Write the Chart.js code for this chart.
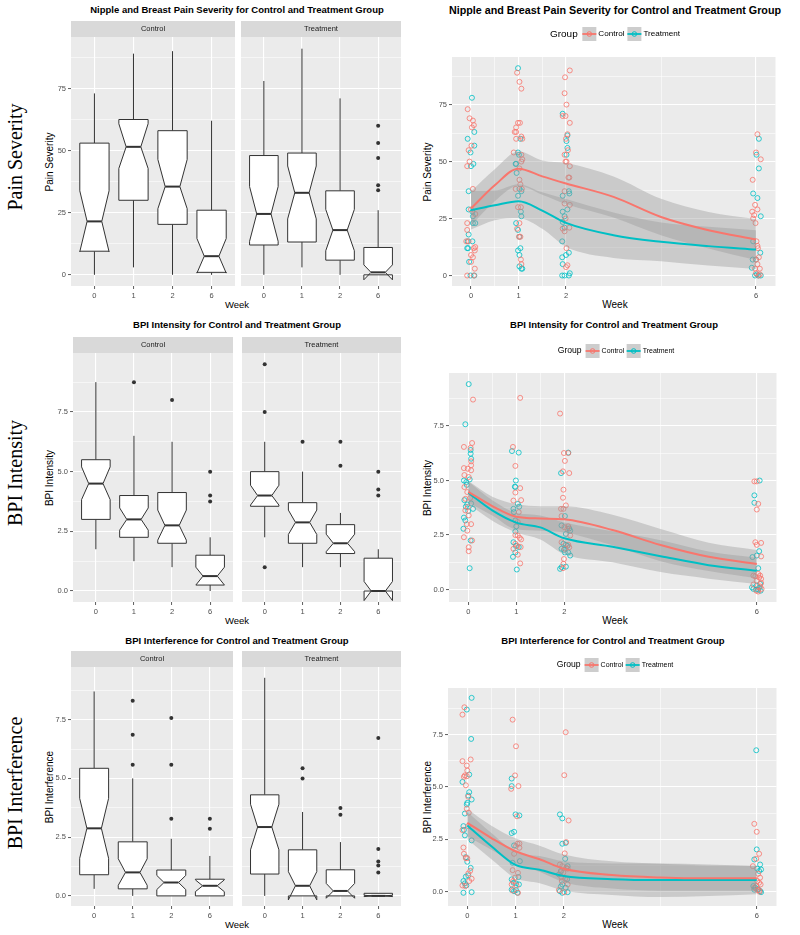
<!DOCTYPE html>
<html>
<head>
<meta charset="utf-8">
<script src="https://cdn.jsdelivr.net/npm/chart.js@4.4.1/dist/chart.umd.min.js"></script>
<style>
body { margin: 0; background: #fff; width: 800px; height: 935px; position: relative; overflow: hidden; }
canvas { position: absolute; }
.t { position: absolute; white-space: nowrap; line-height: 1; font-family: 'Liberation Sans', Arial, sans-serif; color: #000; }
</style>
</head>
<body>
<script>
const FONT = "'Liberation Sans', Arial, sans-serif";
const RED = '#F8766D', CYAN = '#00BFC4';

// ---- shared axes ----
const weeks = ['0', '1', '2', '6'];
const weekNums = [0, 1, 2, 6];
const fitWeeks = [0, 0.5, 1, 1.5, 2, 3, 4, 5, 6];
const painTicks = [0, 25, 50, 75];
const bpiTicks = [0, 2.5, 5, 7.5];

// box stats per week: [whisker low, Q1, median, Q3, whisker high, notch low, notch high]
const painControlBoxes = [[0, 9.5, 21.5, 53, 73, 9.3, 33.8], [3, 30, 51.5, 62.5, 89, 42.8, 60.8], [0, 20.3, 35.5, 58, 90, 26.6, 46.4], [0, 1, 7.5, 26, 62, 0.7, 14.6]];
const painTreatmentBoxes = [[0, 12, 24.5, 48, 78, 13.5, 35.5], [3, 13.2, 33, 49, 91, 22.5, 43.8], [0, 5.9, 18, 33.8, 71, 9.7, 26.3], [0, 0, 1, 11, 26, -2, 4]];
const painControlOutliers = [];
const painTreatmentOutliers = [['6', 60], ['6', 53], ['6', 47], ['6', 36], ['6', 34]];

const intensityControlBoxes = [[1.75, 3, 4.5, 5.5, 8.75, 3.83, 5.2], [1.25, 2.25, 3, 4, 6.5, 2.55, 3.48], [1, 2, 2.75, 4.125, 6.25, 2.13, 3.39], [0, 0.25, 0.625, 1.5, 2.25, 0.25, 1]];
const intensityTreatmentBoxes = [[2.25, 3.55, 4, 5, 6.25, 3.6, 4.43], [1, 2, 2.875, 3.7, 5, 2.37, 3.39], [1, 1.57, 2, 2.78, 3.27, 1.65, 2.38], [0, 0, 0, 1.375, 1.75, -0.4, 0.4]];
const intensityControlOutliers = [['1', 8.75], ['2', 8], ['6', 5], ['6', 4], ['6', 3.75]];
const intensityTreatmentOutliers = [['0', 9.5], ['0', 7.5], ['0', 1], ['1', 6.25], ['2', 6.25], ['2', 5.25], ['6', 5], ['6', 4.25], ['6', 4]];

const interferenceControlBoxes = [[0.3, 0.9, 2.875, 5.43, 8.7, 1.6, 4.15], [0, 0.3, 1, 2.3, 5, 0.45, 1.58], [0, 0, 0.57, 1.1, 2.43, 0.27, 0.87], [0, 0, 0.43, 0.71, 1.7, 0.18, 0.68]];
const interferenceTreatmentBoxes = [[0, 0.93, 2.93, 4.3, 9.28, 1.96, 3.9], [0, 0, 0.43, 1.96, 3.57, -0.17, 1.03], [0, 0, 0.21, 1.11, 2.29, -0.1, 0.53], [0, 0, 0, 0.11, 0.11, -0.03, 0.03]];
const interferenceControlOutliers = [['1', 8.3], ['1', 6.86], ['1', 5.58], ['2', 7.57], ['2', 5.58], ['2', 3.28], ['6', 3.28], ['6', 2.86]];
const interferenceTreatmentOutliers = [['1', 5.43], ['1', 5], ['2', 3.74], ['2', 3.45], ['6', 6.72], ['6', 2], ['6', 1.46], ['6', 1.29], ['6', 1]];

// jittered observations [week + jitter, value]
const painControlPoints = [[-0.07,73],[-0.03,69],[0.04,68],[0.06,66],[0.02,65],[0.01,57],[-0.05,55],[-0.03,50],[-0.08,48],[0.04,38],[0,29],[0.09,27],[-0.08,23],[-0.08,20],[-0.1,15],[-0.05,15],[0.06,12],[0.08,11],[0.09,12.5],[0,9],[0.04,8],[0,6],[0.08,3],[-0.08,0],[0.06,0],
  [0.97,89],[1.02,85],[1.06,82],[0.99,67],[1.03,67],[0.95,65],[0.92,63],[0.95,63],[1.06,61],[1.08,60],[0.95,60],[0.9,54],[1.06,53],[1.08,51],[1.06,50],[1.02,47],[1.02,42],[1.04,40],[1.07,38],[0.94,38],[0.99,30],[1.05,30],[1.02,23],[0.97,20.5],[1.01,17],[1.04,17],[1.05,7],[1.06,5],
  [2.08,90],[1.98,87],[1.97,80],[2.01,75],[1.93,70],[1.99,70],[2.08,67],[2.03,62],[2,60],[2.04,55],[1.97,53],[2.01,50],[1.99,50],[2.08,48],[2.07,43],[2.05,43],[1.97,37],[1.97,31.6],[2.08,31],[1.99,25],[2.07,21],[1.93,20.6],[1.97,19.4],[2.01,12],[2.03,4.5],[2,3.7],
  [6.03,62],[6,54],[6.1,51],[5.93,42],[5.98,31],[5.92,28],[6.03,29],[5.94,25],[5.99,23],[5.96,26.5],[6.01,15],[6.03,13],[6.04,12],[6.06,8],[6,7],[6.03,5],[6.08,3],[5.98,3],[6,1],[6.05,0],[6.08,0.5]];
const painTreatmentPoints = [[0.02,78],[-0.07,60],[0.07,63],[0.07,57],[-0.01,54],[0,48],[0.05,49],[-0.05,37],[-0.05,29],[0.03,28],[0.04,26],[0.09,23],[0.04,23],[-0.05,18],[-0.07,15],[0.03,15],[-0.08,12],[-0.06,12],[-0.04,6],[-0.01,0],[0.07,0],
  [0.99,91],[0.99,54],[1.01,53],[0.95,49],[0.94,49],[0.96,45],[1.04,60],[1.02,38],[1.06,37],[0.99,35],[1.05,28],[1.06,26],[0.95,23],[0.99,20],[1.02,17],[1.04,12],[0.99,11],[1.02,9],[1.02,4],[1.06,3],[1.08,3],
  [1.93,71],[2.03,61.5],[2.01,59],[2.03,56],[2.01,53],[2.07,36],[1.93,35],[2.06,37],[2.03,29],[1.93,28],[1.97,26],[1.93,23.5],[1.97,21],[1.92,15],[2,9],[2.06,10],[1.93,5],[1.92,8],[1.92,0],[1.97,0],[2.06,0],[2.08,1],
  [6.06,60],[6.01,53],[6.06,47],[5.94,36],[6.03,34],[6.1,26],[5.94,15],[6.09,10],[5.93,7],[6,7],[5.91,3.4],[5.98,0],[6.05,0],[6.1,0],[6.02,0.5]];

const intensityControlPoints = [[0.1,8.71],[0.08,6.72],[-0.09,6.54],[0.05,6.5],[0.06,5.88],[0.06,5.7],[-0.09,5.57],[-0.01,5.54],[0.06,5.47],[-0.08,5.25],[0.01,5.16],[-0.08,4.7],[-0.02,4.47],[0.04,4.2],[-0.06,4.16],[-0.01,3.78],[-0.06,3.63],[0.01,3.4],[-0.03,3],[0.06,3],[-0.02,2.7],[-0.09,2.4],[0.08,2.25],[0.01,1.94],[0.01,1.76],
  [1.08,8.79],[0.93,6.54],[0.98,5.67],[1.08,4.65],[0.98,4.45],[0.94,4.08],[1.1,4.1],[1.05,3.55],[1.03,3.1],[0.98,2.5],[1.03,2.48],[1.07,2.37],[1.1,2.3],[0.98,2.1],[1.02,2],[1.09,1.95],[0.94,1.87],[1.03,1.6],[1.08,1.2],
  [1.91,8.07],[1.99,6.26],[2.08,6.26],[2.01,5.9],[2.1,5.34],[1.97,5.42],[1.98,4.58],[1.97,4.21],[2.03,3.86],[1.98,3.7],[1.93,3.7],[1.94,3.37],[2.08,2.9],[2,2.86],[2.06,2.79],[2.12,2.48],[1.94,2.17],[2.08,2.05],[2.1,1.94],[2.01,1.87],[1.99,1.4],[1.98,1.18],[1.97,0.98],
  [5.95,4.96],[6,4.96],[6.03,3.93],[6,3.67],[5.97,2.17],[6,2.05],[6.09,2.14],[6.09,1.52],[5.93,0.64],[5.97,0.61],[6.03,0.72],[6.07,0.64],[6.05,0.55],[6.09,0.49],[6,0.41],[6.09,0.3],[5.93,0.23],[6.07,0.14],[5.99,-0.05],[6.03,-0.09],[6.1,0.03]];
const intensityTreatmentPoints = [[0.01,9.42],[-0.06,7.58],[0.05,6.4],[0.05,6.23],[0.06,6],[0.03,5.05],[-0.09,5],[-0.04,4.93],[-0.03,4.8],[-0.08,4.1],[0.06,3.95],[-0.02,3.9],[-0.05,3.8],[0.1,3.7],[0,3.6],[-0.09,3.3],[-0.06,3.17],[-0.1,2.79],[0.05,2.25],[0.03,0.98],
  [0.91,6.35],[1.05,6.28],[0.99,5],[0.97,4.72],[0.98,4.7],[1.03,3.93],[1.06,3.8],[0.94,3.7],[0.95,3.55],[0.98,3.17],[1,2.9],[0.98,2.66],[0.94,2.17],[0.99,2],[1.05,1.95],[0.98,1.7],[0.93,1.5],[1.01,0.92],
  [1.93,5.34],[2.08,6.28],[2.01,3.37],[1.94,2.94],[2.1,2.8],[2.12,2.7],[2.03,2.55],[1.98,2.1],[2.06,2],[2.03,2.05],[1.94,1.87],[1.99,1.82],[2.08,1.7],[2.01,1.7],[2.12,1.56],[1.94,1.03],[2.03,1.05],[1.91,0.95],
  [6.06,5],[5.95,4.32],[5.95,3.98],[6.05,1.76],[6,1.56],[5.91,1.49],[6.03,0.98],[6.07,0.26],[6,0.18],[5.9,0.1],[6.05,0.08],[5.93,0.03],[5.99,0],[6.03,0],[6.08,-0.05]];

const interferenceControlPoints = [[-0.06,8.8],[-0.1,8.45],[0.07,6.31],[-0.1,6.23],[-0.01,6.02],[0,5.78],[-0.05,5.55],[-0.01,5.51],[-0.07,5.48],[-0.03,5.08],[0.02,4.53],[-0.01,3.96],[0.03,3.77],[0.02,3.13],[-0.1,2.94],[-0.08,2.11],[-0.07,1.81],[-0.03,1.6],[0,1.6],[0.06,1],[0.02,0.87],[0.09,0.62],[0.04,0.51],[-0.1,0.3],[-0.04,0.27],
  [0.94,8.21],[1.01,6.94],[0.99,5.55],[1.06,5.04],[0.91,4.91],[1.03,3.6],[1.04,2.29],[1.08,2.3],[1.01,2.18],[1.08,2.1],[0.97,1.81],[0.94,1.03],[1.05,0.9],[0.99,0.67],[0.95,0.51],[0.92,0.35],[1.02,0.3],[0.94,0.06],[1.05,-0.05],
  [2.04,7.61],[2.01,5.56],[2.1,3.4],[2.05,2.37],[2.02,1.83],[1.92,1.3],[1.97,1.22],[2.05,1.14],[2.08,1.1],[1.94,0.94],[1.99,0.91],[1.95,0.7],[2.03,0.62],[1.96,0.51],[2.08,0.35],[1.9,0.08],[2.01,-0.02],
  [5.95,3.24],[6,2.86],[6.05,1.81],[5.99,1.57],[5.92,1.22],[6.03,0.86],[6.07,0.67],[6.01,0.51],[6.05,0.43],[6.08,0.35],[5.99,0.27],[5.95,0.19],[6.01,0.08],[6.05,0.08],[6.06,0]];
const interferenceTreatmentPoints = [[0.09,9.25],[-0.01,8.69],[0.08,7.29],[0.04,5.59],[-0.1,5.24],[0.04,4.75],[0.02,4.59],[0.09,4.4],[0,4.24],[-0.01,4.16],[-0.05,3.73],[-0.08,3.13],[-0.07,2.95],[-0.05,2.69],[0.09,2.45],[-0.03,1.65],[0,1.43],[0.07,1.14],[0.02,0.78],[-0.03,0.72],[-0.08,0.51],[-0.05,0.4],[-0.02,0.3],[-0.08,-0.05],[0.09,-0.02],
  [0.92,5.4],[0.92,5.04],[1,3.69],[1.08,3.64],[0.97,2.86],[0.92,2.8],[0.97,2.21],[1.09,1.46],[0.94,1.38],[1.06,0.7],[0.92,0.59],[0.96,0.43],[1.01,0.4],[1.07,0.35],[0.92,0.1],[1.01,0.08],[0.97,0.03],[1.04,-0.05],
  [1.92,3.69],[1.97,3.5],[1.97,2.29],[2.04,2.33],[2.03,1.57],[2.08,1.22],[1.94,0.99],[1.9,0.83],[2.07,0.6],[1.97,0.35],[1.94,0.25],[2.04,0.19],[1.92,0.03],[1.97,-0.05],[2.08,-0.02],
  [5.99,6.75],[6,2.02],[5.95,1.54],[6.07,1.3],[6.01,1.1],[6.09,1.06],[6.05,0.99],[5.93,0.27],[5.97,0.19],[5.95,0.1],[6.03,0.11],[6.07,0.03],[6.09,-0.02]];

// loess fits and confidence limits at fitWeeks
const painControlFit = [29.4, 39.6, 46.9, 43.5, 40.4, 34.5, 25.7, 19.9, 15.8];
const painControlLow = [22, 32.6, 39.4, 35.5, 31.4, 25.5, 17.7, 11.9, 6.8];
const painControlHigh = [36.9, 46.6, 54.4, 50.5, 49.4, 43.5, 33.7, 27.9, 24.8];
const painTreatmentFit = [28.7, 30.8, 32.6, 28.5, 23.1, 17.7, 14.8, 12.9, 11.4];
const painTreatmentLow = [20.2, 24.3, 25.1, 20.5, 12.6, 7.7, 6.3, 4.4, 2.9];
const painTreatmentHigh = [37.2, 37.3, 40.1, 36.5, 33.6, 27.7, 23.3, 21.4, 19.9];

const intensityControlFit = [4.48, 3.83, 3.34, 3.26, 3.22, 2.73, 2.04, 1.5, 1.17];
const intensityControlLow = [3.98, 3.4, 2.76, 2.7, 2.62, 2.03, 1.3, 0.85, 0.52];
const intensityControlHigh = [4.98, 4.26, 3.92, 3.82, 3.82, 3.43, 2.78, 2.15, 1.82];
const intensityTreatmentFit = [4.44, 3.63, 3.07, 2.85, 2.35, 1.96, 1.53, 1.12, 0.86];
const intensityTreatmentLow = [3.92, 3.16, 2.62, 2.3, 1.62, 1.25, 0.8, 0.5, 0.26];
const intensityTreatmentHigh = [4.96, 4.1, 3.52, 3.4, 3.08, 2.67, 2.26, 1.74, 1.46];

const interferenceControlFit = [3.29, 2.56, 1.93, 1.55, 1.1, 0.8, 0.68, 0.64, 0.64];
const interferenceControlLow = [2.65, 2.0, 1.35, 0.95, 0.45, 0.15, 0.05, 0.05, 0.05];
const interferenceControlHigh = [3.95, 3.15, 2.55, 2.2, 1.78, 1.45, 1.33, 1.25, 1.25];
const interferenceTreatmentFit = [3.16, 2.17, 1.28, 1.05, 0.75, 0.6, 0.56, 0.56, 0.56];
const interferenceTreatmentLow = [2.5, 1.55, 0.65, 0.4, 0.05, -0.15, -0.25, -0.2, -0.12];
const interferenceTreatmentHigh = [3.82, 2.8, 1.9, 1.7, 1.45, 1.35, 1.35, 1.3, 1.22];

// ---- helpers ----
function text(str, x, y, size, extra, rotate) {
  const d = document.createElement('div');
  d.className = 't';
  d.textContent = str;
  d.style.left = x + 'px';
  d.style.top = y + 'px';
  d.style.fontSize = size + 'px';
  if (extra) d.style.cssText += extra;
  d.style.transform = 'translate(-50%,-50%)' + (rotate ? ' rotate(-90deg)' : '');
  document.body.appendChild(d);
}

function withMinors(majors, min, max) {
  const out = majors.slice();
  for (let i = 1; i < majors.length; i++) out.push((majors[i - 1] + majors[i]) / 2);
  const n = majors.length, up = majors[n - 1] + (majors[n - 1] - majors[n - 2]) / 2;
  if (up <= max) out.push(up);
  return out.sort((a, b) => a - b);
}

function axis(min, max, ticks, majors, labelOf, o) {
  const isMajor = v => majors.some(m => Math.abs(m - v) < 1e-9);
  return {
    type: 'linear', min, max, bounds: 'data',
    afterBuildTicks: s => { s.ticks = ticks.map(v => ({ value: v })); },
    afterFit: s => { if (o.horizontal) s.height = 16; else s.width = o.size; },
    border: { display: false },
    grid: {
      color: '#FFFFFF',
      lineWidth: c => (c.tick && isMajor(c.tick.value)) ? 1.1 : 0.55,
      drawTicks: o.labels,
      tickLength: 3,
      tickWidth: 0.8,
      tickColor: c => (c.tick && isMajor(c.tick.value)) ? '#333333' : 'rgba(0,0,0,0)'
    },
    ticks: {
      display: o.labels, autoSkip: false, maxRotation: 0, padding: 2,
      color: '#4D4D4D', font: { family: FONT, size: 7.5 },
      callback: v => isMajor(v) ? labelOf(v) : ''
    }
  };
}

function place(area, x0, top) {
  const c = document.createElement('canvas');
  const y0 = area[1] - top;
  c.width = area[2] - x0;
  c.height = area[3] + 16 - y0;
  c.style.left = x0 + 'px';
  c.style.top = y0 + 'px';
  document.body.appendChild(c);
  return c;
}

function boxPlugin(stats, strip) {
  return {
    id: 'boxes',
    beforeDraw(chart) {
      const { ctx, chartArea: a } = chart;
      ctx.save();
      ctx.fillStyle = '#EBEBEB';
      ctx.fillRect(a.left, a.top, a.right - a.left, a.bottom - a.top);
      ctx.fillStyle = '#D9D9D9';
      ctx.fillRect(a.left, a.top - 16, a.right - a.left, 16);
      ctx.fillStyle = '#1A1A1A';
      ctx.font = '7.5px ' + FONT;
      ctx.textAlign = 'center';
      ctx.textBaseline = 'middle';
      ctx.fillText(strip, (a.left + a.right) / 2, a.top - 8);
      ctx.restore();
    },
    beforeDatasetsDraw(chart) {
      const { ctx, scales: { x, y } } = chart;
      const half = 0.375 * (x.getPixelForValue(1) - x.getPixelForValue(0));
      const ind = half * 0.5;
      const py = v => y.getPixelForValue(v);
      ctx.save();
      ctx.strokeStyle = '#333333';
      stats.forEach((s, i) => {
        const [lo, q1, med, q3, hi, nlo, nhi] = s;
        const cx = x.getPixelForValue(i), l = cx - half, r = cx + half;
        ctx.lineWidth = 1;
        ctx.beginPath();
        ctx.moveTo(cx, py(hi)); ctx.lineTo(cx, py(q3));
        ctx.moveTo(cx, py(q1)); ctx.lineTo(cx, py(lo));
        ctx.stroke();
        ctx.beginPath();
        ctx.moveTo(l, py(q3)); ctx.lineTo(l, py(nhi)); ctx.lineTo(l + ind, py(med));
        ctx.lineTo(l, py(nlo)); ctx.lineTo(l, py(q1)); ctx.lineTo(r, py(q1));
        ctx.lineTo(r, py(nlo)); ctx.lineTo(r - ind, py(med)); ctx.lineTo(r, py(nhi));
        ctx.lineTo(r, py(q3)); ctx.closePath();
        ctx.fillStyle = '#FFFFFF';
        ctx.fill();
        ctx.stroke();
        ctx.lineWidth = 2;
        ctx.beginPath();
        ctx.moveTo(l + ind, py(med)); ctx.lineTo(r - ind, py(med));
        ctx.stroke();
      });
      ctx.restore();
    }
  };
}

function boxPanel(area, x0, stats, outliers, yMin, yMax, majors, digits, strip, showY) {
  const c = place(area, x0, 16);
  new Chart(c, {
    type: 'scatter',
    data: { datasets: [{
      data: outliers.map(o => ({ x: weeks.indexOf(o[0]), y: o[1] })),
      pointRadius: 2, pointHoverRadius: 2, backgroundColor: '#333333', borderWidth: 0
    }] },
    options: {
      responsive: false, animation: false, events: [],
      layout: { padding: { top: 16, left: 0, right: 0, bottom: 0 } },
      plugins: { legend: { display: false }, tooltip: { enabled: false } },
      scales: {
        x: axis(-0.6, 3.6, [0, 1, 2, 3], [0, 1, 2, 3], v => weeks[v], { horizontal: true, labels: true }),
        y: axis(yMin, yMax, withMinors(majors, yMin, yMax), majors, v => v.toFixed(digits), { size: area[0] - x0, labels: showY })
      }
    },
    plugins: [boxPlugin(stats, strip)]
  });
}

function legendPlugin(gx, gy, s) {
  return {
    id: 'groupLegend',
    afterDraw(chart) {
      const ctx = chart.ctx;
      ctx.save();
      ctx.textBaseline = 'middle';
      ctx.textAlign = 'left';
      ctx.fillStyle = '#000';
      ctx.font = (8.6 * s) + 'px ' + FONT;
      ctx.fillText('Group', gx, gy);
      let x = gx + ctx.measureText('Group').width + 4 * s;
      [['Control', RED], ['Treatment', CYAN]].forEach(([name, col]) => {
        ctx.fillStyle = '#CDCDCD';
        ctx.fillRect(x, gy - 7, 14, 14);
        ctx.strokeStyle = col;
        ctx.lineWidth = 1.8;
        ctx.beginPath(); ctx.moveTo(x, gy); ctx.lineTo(x + 14, gy); ctx.stroke();
        ctx.lineWidth = 1;
        ctx.beginPath(); ctx.arc(x + 7, gy, 2.3, 0, Math.PI * 2); ctx.stroke();
        x += 16;
        ctx.fillStyle = '#000';
        ctx.font = (7 * s) + 'px ' + FONT;
        ctx.fillText(name, x, gy);
        x += ctx.measureText(name).width + 2.5 * s;
      });
      ctx.restore();
    }
  };
}

const bgPlugin = {
  id: 'panelBg',
  beforeDraw(chart) {
    const { ctx, chartArea: a } = chart;
    ctx.save();
    ctx.fillStyle = '#EBEBEB';
    ctx.fillRect(a.left, a.top, a.right - a.left, a.bottom - a.top);
    ctx.restore();
  }
};

function trendPanel(area, x0, top, yMin, yMax, majors, digits, d, leg) {
  const c = place(area, x0, top);
  const xy = pts => pts.map(p => ({ x: p[0], y: p[1] }));
  const curve = vals => fitWeeks.map((w, i) => ({ x: w, y: vals[i] }));
  const lineBase = { type: 'line', pointRadius: 0, cubicInterpolationMode: 'monotone', borderWidth: 0, fill: false };
  const band = 'rgba(153,153,153,0.4)';
  const pts = col => ({ type: 'scatter', pointRadius: 2.5, pointHoverRadius: 2.5, borderWidth: 1, borderColor: col, backgroundColor: 'rgba(0,0,0,0)', order: 3 });
  new Chart(c, {
    type: 'scatter',
    data: { datasets: [
      Object.assign({}, lineBase, { data: curve(d.cLow), order: 2 }),
      Object.assign({}, lineBase, { data: curve(d.cHigh), fill: '-1', backgroundColor: band, order: 2 }),
      Object.assign({}, lineBase, { data: curve(d.tLow), order: 2 }),
      Object.assign({}, lineBase, { data: curve(d.tHigh), fill: '-1', backgroundColor: band, order: 2 }),
      Object.assign({}, lineBase, { data: curve(d.cFit), borderColor: RED, borderWidth: 2, order: 1 }),
      Object.assign({}, lineBase, { data: curve(d.tFit), borderColor: CYAN, borderWidth: 2, order: 1 }),
      Object.assign(pts('rgba(248,118,109,0.8)'), { data: xy(d.cPts) }),
      Object.assign(pts('rgba(0,191,196,0.8)'), { data: xy(d.tPts) })
    ] },
    options: {
      responsive: false, animation: false, events: [],
      layout: { padding: { top, left: 0, right: 0, bottom: 0 } },
      plugins: { legend: { display: false }, tooltip: { enabled: false } },
      scales: {
        x: axis(-0.4, 6.41, withMinors(weekNums, -0.4, 6.41).filter(v => v <= 6), weekNums, v => String(v), { horizontal: true, labels: true }),
        y: axis(yMin, yMax, withMinors(majors, yMin, yMax), majors, v => v.toFixed(digits), { size: area[0] - x0, labels: true })
      }
    },
    plugins: [bgPlugin, legendPlugin(leg[0] - x0, leg[1] - (area[1] - top), leg[2])]
  });
}

// ---- text ----
const titles = ['Nipple and Breast Pain Severity for Control and Treatment Group', 'BPI Intensity for Control and Treatment Group', 'BPI Interference for Control and Treatment Group'];
const rowNames = ['Pain Severity', 'BPI Intensity', 'BPI Interference'];
const titleY = [10, 325, 641], weekY = [305, 621, 925];
const bold = 'font-weight:bold;';
text(titles[0], 237, titleY[0], 9.5, bold);
text(titles[0], 615, titleY[0], 10.75, bold);
text(titles[1], 237, titleY[1], 9.5, bold);
text(titles[1], 614, titleY[1], 9.5, bold);
text(titles[2], 237, titleY[2], 9.5, bold);
text(titles[2], 613, titleY[2], 9.5, bold);
weekY.forEach(y => { text('Week', 237, y, 9.5); text('Week', 615, y, 10); });
text(rowNames[0], 50, 161.5, 10, '', true);
text(rowNames[0], 428, 171.5, 10, '', true);
text(rowNames[1], 50, 477.5, 10, '', true);
text(rowNames[1], 428, 487.5, 10, '', true);
text(rowNames[2], 50, 786.5, 10, '', true);
text(rowNames[2], 428, 797, 10, '', true);
const serif = "font-family:'Liberation Serif','Times New Roman',serif;";
text(rowNames[0], 15, 157, 20, serif, true);
text(rowNames[1], 15, 473, 20, serif, true);
text(rowNames[2], 15, 783, 20, serif, true);

// ---- row 1: pain severity ----
boxPanel([71, 37, 235, 286], 40, painControlBoxes, painControlOutliers, -4.5, 95.7, painTicks, 0, 'Control', true);
boxPanel([239, 37, 403, 286], 239, painTreatmentBoxes, painTreatmentOutliers, -4.5, 95.7, painTicks, 0, 'Treatment', false);
trendPanel([452, 57, 779, 286], 405, 36, -4.6, 95.9, painTicks, 0, {
  cPts: painControlPoints, tPts: painTreatmentPoints,
  cFit: painControlFit, cLow: painControlLow, cHigh: painControlHigh,
  tFit: painTreatmentFit, tLow: painTreatmentLow, tHigh: painTreatmentHigh
}, [550, 34, 1.16]);

// ---- row 2: BPI intensity ----
boxPanel([73, 353, 235, 602], 40, intensityControlBoxes, intensityControlOutliers, -0.46, 9.97, bpiTicks, 1, 'Control', true);
boxPanel([240, 353, 403, 602], 240, intensityTreatmentBoxes, intensityTreatmentOutliers, -0.46, 9.97, bpiTicks, 1, 'Treatment', false);
trendPanel([449, 373, 780, 602], 405, 36, -0.57, 9.93, bpiTicks, 1, {
  cPts: intensityControlPoints, tPts: intensityTreatmentPoints,
  cFit: intensityControlFit, cLow: intensityControlLow, cHigh: intensityControlHigh,
  tFit: intensityTreatmentFit, tLow: intensityTreatmentLow, tHigh: intensityTreatmentHigh
}, [557.7, 351, 1]);

// ---- row 3: BPI interference ----
boxPanel([71, 667, 235, 906], 40, interferenceControlBoxes, interferenceControlOutliers, -0.43, 9.74, bpiTicks, 1, 'Control', true);
boxPanel([240, 667, 403, 906], 240, interferenceTreatmentBoxes, interferenceTreatmentOutliers, -0.43, 9.74, bpiTicks, 1, 'Treatment', false);
trendPanel([448, 688, 780, 906], 405, 36, -0.68, 9.72, bpiTicks, 1, {
  cPts: interferenceControlPoints, tPts: interferenceTreatmentPoints,
  cFit: interferenceControlFit, cLow: interferenceControlLow, cHigh: interferenceControlHigh,
  tFit: interferenceTreatmentFit, tLow: interferenceTreatmentLow, tHigh: interferenceTreatmentHigh
}, [556.7, 665, 1]);
</script>
</body>
</html>
